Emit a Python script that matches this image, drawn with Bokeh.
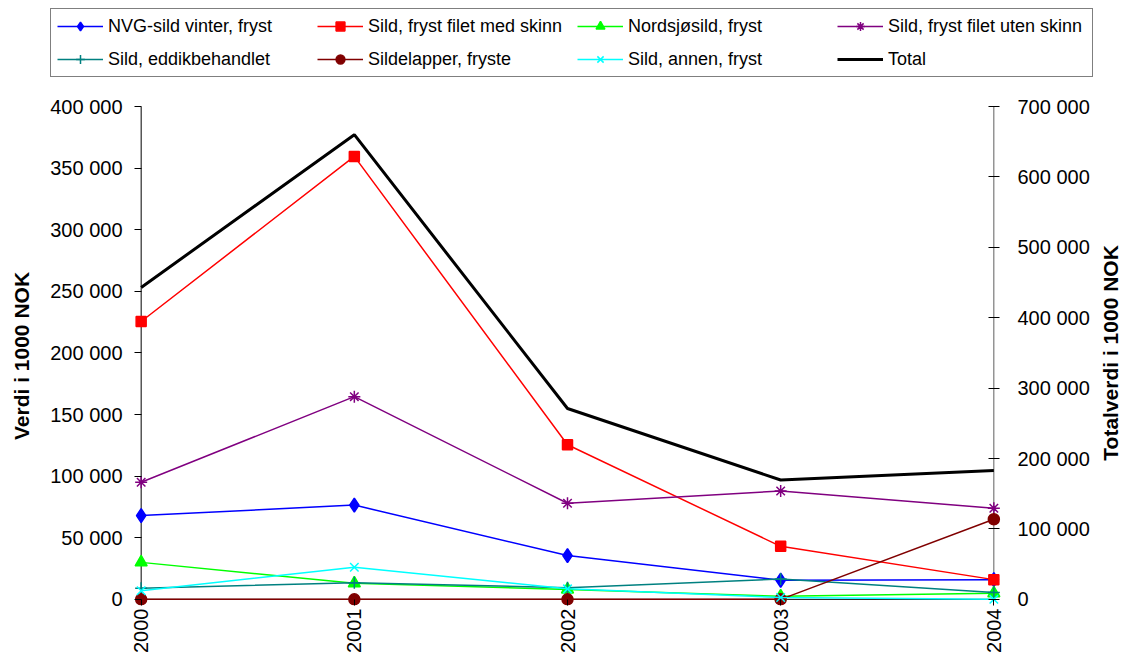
import math
from bokeh.plotting import figure
from bokeh.layouts import column, row
from bokeh.models import (Range1d, FixedTicker, CustomJSTickFormatter, LinearAxis,
                          Legend, LegendItem)
from bokeh.core.properties import value
from bokeh.embed import file_html
from bokeh.resources import INLINE

years = [2000, 2001, 2002, 2003, 2004]
nvg_vinter = [68000, 76500, 35500, 15500, 16000]
fryst_med_skinn = [225500, 359500, 125500, 43000, 16000]
nordsjosild = [30000, 13000, 8000, 2500, 5000]
fryst_uten_skinn = [95000, 164500, 78000, 88000, 74000]
eddikbehandlet = [9000, 13500, 9500, 16500, 5500]
sildelapper = [0, 0, 0, 0, 65000]
annen = [7000, 26000, 8500, 1500, 0]
total = [443000, 660000, 271000, 169500, 183000]

left_ticks = [0, 50000, 100000, 150000, 200000, 250000, 300000, 350000, 400000]
right_ticks = [0, 100000, 200000, 300000, 400000, 500000, 600000, 700000]
right_title = "Totalverdi i 1000 NOK"

FONT = "Liberation Sans"

# small padding so that edge markers are not cut by the frame
XPAD = 0.05
YPAD = 5000
p = figure(width=1092, height=584, output_backend="svg", toolbar_location=None,
           x_range=Range1d(years[0] - XPAD, years[-1] + XPAD),
           y_range=Range1d(-YPAD, left_ticks[-1]),
           x_axis_location=None, y_axis_location=None,
           min_border_left=130, min_border_right=87, min_border_top=28,
           min_border_bottom=57)
p.frame_align = False
p.extra_y_ranges = {"right": Range1d(-YPAD * right_ticks[-1] / left_ticks[-1], right_ticks[-1])}
p.outline_line_color = None
p.xgrid.visible = False
p.ygrid.visible = False

fmt = CustomJSTickFormatter(code="return Math.round(tick).toString().replace(/\\B(?=(\\d{3})+(?!\\d))/g, ' ');")

ya = LinearAxis(ticker=FixedTicker(ticks=left_ticks), formatter=fmt,
                axis_label="Verdi i 1000 NOK")
ya.axis_label_text_font = FONT
ya.axis_label_text_font_style = "bold"
ya.axis_label_text_font_size = "21px"
ya.axis_label_text_color = "black"
ya.axis_label_standoff = 14
ya.major_label_text_font = FONT
ya.major_label_text_font_size = "20px"
ya.major_label_text_color = "black"
ya.axis_line_color = None
ya.major_tick_in = 11
ya.major_tick_out = -4
ya.major_tick_line_color = "black"
ya.minor_tick_line_color = None
ya.major_label_standoff = 8
p.add_layout(ya, "left")

yr = LinearAxis(y_range_name="right", ticker=FixedTicker(ticks=right_ticks),
                formatter=fmt)
yr.major_label_text_font = FONT
yr.major_label_text_font_size = "20px"
yr.major_label_text_color = "black"
yr.axis_line_color = None
yr.major_tick_in = 16
yr.major_tick_out = -5
yr.major_tick_line_color = "black"
yr.minor_tick_line_color = None
yr.major_label_standoff = 13
p.add_layout(yr, "right")

xa = LinearAxis(ticker=FixedTicker(ticks=years))
xa.major_label_orientation = math.pi / 2
xa.major_label_text_font = FONT
xa.major_label_text_font_size = "20px"
xa.major_label_text_color = "black"
xa.axis_line_color = None
xa.major_tick_in = 6
xa.major_tick_out = 0
xa.major_tick_line_color = "black"
xa.minor_tick_line_color = None
xa.major_label_standoff = 3
p.add_layout(xa, "below")

# axis lines at the data edges
p.segment(x0=[years[0], years[0]], y0=[0, 0], x1=[years[0], years[-1]], y1=[left_ticks[-1], 0],
          line_color="black", line_width=1)
p.segment(x0=[years[-1]], y0=[0], x1=[years[-1]], y1=[left_ticks[-1]],
          line_color="#606060", line_width=1)

series = [
    ("NVG-sild vinter, fryst", nvg_vinter, "#0000FF", "diamond", 14),
    ("Sild, fryst filet med skinn", fryst_med_skinn, "#FF0000", "square", 10),
    ("Nordsjøsild, fryst", nordsjosild, "#00FF00", "triangle", 12),
    ("Sild, fryst filet uten skinn", fryst_uten_skinn, "#800080", "asterisk", 12),
    ("Sild, eddikbehandlet", eddikbehandlet, "#008080", "cross", 12),
    ("Sildelapper, fryste", sildelapper, "#800000", "circle", 11),
    ("Sild, annen, fryst", annen, "#00FFFF", "x", 12),
]

# right-hand axis title in its own narrow figure sharing the y range
rf = figure(width=30, height=584, output_backend="svg", toolbar_location=None,
            x_range=Range1d(0, 1), y_range=p.y_range,
            x_axis_location=None, y_axis_location=None,
            min_border_left=0, min_border_right=0, min_border_top=28,
            min_border_bottom=57)
rf.frame_align = False
rf.outline_line_color = None
rf.xgrid.visible = False
rf.ygrid.visible = False
rf.text(x=[0.6], y=[left_ticks[-1] / 2], text=[right_title], angle=math.pi / 2,
        text_align="center", text_baseline="middle", text_font=value(FONT),
        text_font_style="bold", text_font_size="21px", text_color="black")

# legend figure (separate, above the chart)
lf = figure(width=1122, height=78, output_backend="svg", toolbar_location=None,
            x_range=Range1d(0, 1), y_range=Range1d(0, 1),
            x_axis_location=None, y_axis_location=None,
            min_border_left=0, min_border_right=0, min_border_top=0, min_border_bottom=0)
lf.frame_align = False
lf.outline_line_color = None
lf.xgrid.visible = False
lf.ygrid.visible = False

hidden_x = [-5, -4]
hidden_y = [-5, -4]

items = []
for name, vals, color, marker, size in series:
    p.line(years, vals, line_color=color, line_width=1.5)
    p.scatter(years, vals, marker=marker, size=size, fill_color=color,
              line_color=color, line_width=1.5)
    l1 = lf.line(hidden_x, hidden_y, line_color=color, line_width=1.5)
    l2 = lf.scatter(hidden_x, hidden_y, marker=marker, size=size - 2, fill_color=color,
                    line_color=color, line_width=1.5)
    items.append(LegendItem(label=name, renderers=[l1, l2]))

p.line(years, total, line_color="black", line_width=3, y_range_name="right")
lt = lf.line(hidden_x, hidden_y, line_color="black", line_width=3)
items.append(LegendItem(label="Total", renderers=[lt]))

legend = Legend(items=items, ncols=4, orientation="horizontal",
                location=(50, 1), border_line_color="black", border_line_width=1,
                label_text_font=FONT, label_text_font_size="18px",
                label_text_color="black",
                glyph_width=46, glyph_height=22, label_height=22, label_width=198,
                label_standoff=5, spacing=11, padding=6, margin=0,
                background_fill_alpha=1)
lf.add_layout(legend, "center")

layout = column(lf, row(p, rf, spacing=0), spacing=0)
open("out.html", "w").write(file_html(layout, INLINE))
